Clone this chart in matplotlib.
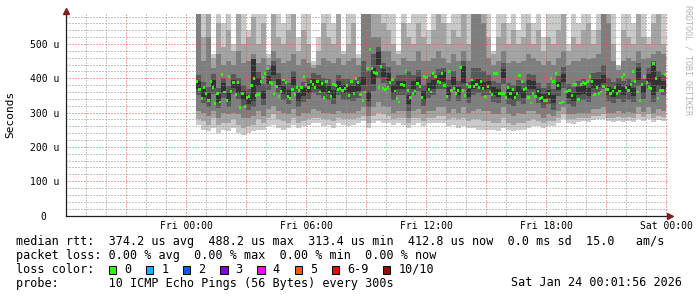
import numpy as np
import matplotlib
matplotlib.use("Agg")
import matplotlib.pyplot as plt
from matplotlib.ticker import MultipleLocator, FuncFormatter
from matplotlib.patches import Rectangle

W, H, DPI = 697, 297, 100
MONO = "DejaVu Sans Mono"

# ---------------- data ----------------
# time in hours after Thu 18:00
x_tick_hours = [6, 12, 18, 24, 30]
x_tick_labels = ["Fri 00:00", "Fri 06:00", "Fri 12:00", "Fri 18:00", "Sat 00:00"]
y_ticks = [0, 100, 200, 300, 400, 500]
y_tick_labels = ["0  ", "100 u", "200 u", "300 u", "400 u", "500 u"]

data_start = 6.5    # Fri 00:30
data_end = 30.0     # Sat 00:00

# median rtt (microseconds)
median_us = [
    392, 368, 342, 374, 356, 334, 392, 374, 327, 357, 331, 412, 360, 334, 404, 362, 387, 353, 387, 314,
    356, 319, 343, 348, 378, 400, 351, 354, 390, 403, 414, 429, 387, 385, 357, 375, 348, 362, 395, 387,
    348, 341, 367, 354, 373, 365, 373, 404, 383, 373, 390, 383,
    373, 390, 360, 385, 344, 390, 360, 348, 383, 380, 367, 370, 365, 371, 380, 351, 392, 357, 400, 387,
    353, 336, 360, 429, 484, 429, 416, 414, 373, 434, 370, 367, 373, 387, 397, 363, 341, 331, 383, 380,
    421, 365, 344, 357, 363, 385, 375, 344, 404, 402, 367, 360, 414,
    406, 390, 387, 414, 380, 348, 419, 365, 370, 357, 365, 432, 365, 351, 383, 377, 395, 377, 383, 373,
    392, 370, 348, 377, 360, 354, 414, 414, 356, 356, 357, 344, 373, 357, 367, 344, 356, 409, 392, 367,
    370, 344, 328, 357, 348, 363, 341, 344, 336, 336,
    357, 400, 390, 414, 380, 328, 331, 360, 362, 365, 351, 383, 383, 338, 383, 387, 385, 390, 406, 390,
    354, 373, 357, 360, 375, 367, 367, 357, 363, 373, 356, 363, 402, 412, 373, 365, 383, 419, 390, 360,
    336, 383, 404, 387, 373, 370, 443, 400, 341, 365, 365, 412,
]

# smoke bands (15-minute columns), ping rank 1..5 from the outside in
smoke_hi1 = [
    600, 600, 600, 470, 600, 560, 600, 500, 600, 600, 540, 600, 600, 600, 470, 600, 600, 560, 600, 600, 520, 600, 600, 450,
    520, 600, 600, 560, 600, 480, 600, 600, 470, 600, 600, 600, 600, 600, 600, 600, 480, 600, 560, 600, 600, 600, 540, 600,
    600, 600, 560, 600, 600, 600, 600, 600, 600, 600, 600, 480, 600, 600, 560, 600, 540, 600, 600, 560, 600, 520, 600, 600,
    600, 600, 500, 600, 560, 600, 600, 540, 600, 600, 600, 600, 440, 600, 600, 560, 600, 600, 520, 600, 600, 600,
]
smoke_hi2 = [
    600, 520, 600, 460, 560, 490, 540, 480, 600, 500, 520, 580, 500, 560, 460, 600, 520, 500, 540, 600, 480, 540, 500, 440,
    480, 560, 520, 500, 600, 470, 500, 560, 460, 600, 600, 600, 600, 560, 540, 500, 470, 560, 520, 500, 560, 520, 500, 540,
    600, 560, 500, 540, 520, 600, 500, 600, 600, 600, 520, 470, 520, 560, 500, 540, 500, 520, 560, 500, 540, 480, 520, 500,
    540, 600, 480, 520, 500, 540, 560, 500, 540, 600, 600, 500, 435, 540, 520, 500, 600, 520, 500, 560, 600, 500,
]
smoke_hi3 = [
    600, 450, 520, 430, 470, 440, 450, 440, 480, 445, 450, 470, 445, 460, 440, 480, 460, 445, 450, 470, 440, 455, 445, 430,
    440, 460, 450, 445, 460, 440, 450, 460, 440, 600, 600, 520, 520, 480, 480, 450, 440, 460, 450, 450, 480, 450, 450, 460,
    480, 460, 445, 470, 450, 480, 450, 600, 600, 560, 460, 440, 450, 480, 445, 450, 445, 450, 470, 460, 450, 440, 450, 440,
    460, 480, 440, 450, 450, 460, 455, 460, 470, 600, 560, 450, 425, 450, 460, 450, 480, 455, 460, 470, 480, 470,
]
smoke_hi4 = [
    410, 388, 375, 413, 372, 402, 377, 413, 400, 380, 368, 455, 419, 382, 426, 451, 416, 396, 385, 421, 375, 390, 400, 416,
    411, 402, 397, 384, 411, 398, 398, 395, 404, 450, 420, 470, 490, 445, 433, 398, 410, 410, 421, 411, 423, 380, 404, 412,
    428, 430, 394, 422, 393, 450, 388, 430, 430, 420, 411, 392, 387, 444, 386, 380, 395, 385, 412, 410, 387, 372, 385, 369,
    408, 432, 384, 375, 393, 397, 390, 415, 417, 440, 400, 388, 401, 392, 398, 390, 445, 399, 431, 450, 421, 410,
]
smoke_hi5 = [
    392, 370, 357, 395, 355, 385, 360, 395, 382, 362, 350, 455, 401, 364, 408, 440, 398, 378, 367, 403, 357, 372, 382, 398,
    393, 384, 379, 366, 393, 380, 380, 377, 386, 405, 360, 430, 480, 427, 415, 380, 392, 392, 350, 393, 405, 362, 386, 394,
    410, 420, 376, 404, 375, 435, 370, 392, 398, 390, 393, 374, 369, 426, 368, 362, 377, 367, 394, 392, 369, 354, 367, 351,
    390, 414, 366, 357, 375, 379, 372, 397, 399, 410, 375, 370, 383, 374, 380, 372, 430, 381, 413, 445, 403, 392,
]
smoke_lo5 = [
    368, 346, 333, 371, 330, 360, 335, 371, 358, 338, 326, 334, 377, 340, 384, 409, 374, 354, 343, 379, 333, 348, 358, 374,
    369, 360, 355, 342, 369, 356, 356, 353, 362, 381, 333, 382, 440, 403, 391, 356, 368, 368, 324, 369, 381, 338, 362, 370,
    386, 388, 352, 380, 351, 386, 346, 368, 374, 366, 369, 350, 345, 402, 344, 338, 353, 343, 370, 368, 345, 330, 343, 327,
    366, 390, 342, 333, 351, 355, 348, 373, 375, 386, 351, 346, 359, 350, 356, 348, 395, 357, 389, 350, 379, 368,
]
smoke_lo4 = [
    350, 328, 315, 353, 312, 342, 317, 353, 340, 320, 308, 316, 359, 322, 366, 391, 356, 336, 325, 361, 315, 330, 340, 356,
    351, 342, 337, 324, 351, 338, 338, 335, 344, 363, 315, 364, 400, 385, 373, 338, 350, 350, 306, 351, 363, 320, 344, 352,
    368, 370, 334, 362, 333, 368, 328, 350, 356, 348, 351, 332, 327, 384, 326, 320, 335, 325, 352, 350, 327, 312, 325, 309,
    348, 372, 324, 315, 333, 337, 330, 355, 357, 368, 333, 328, 341, 332, 338, 330, 377, 339, 371, 332, 361, 350,
]
smoke_lo3 = [
    305, 300, 290, 305, 285, 300, 295, 300, 295, 285, 285, 290, 305, 290, 310, 320, 305, 300, 295, 310, 290, 300, 300, 310,
    305, 300, 300, 295, 305, 300, 300, 300, 305, 315, 290, 315, 330, 320, 315, 300, 305, 305, 285, 305, 310, 295, 305, 305,
    315, 315, 300, 310, 300, 315, 300, 305, 310, 305, 305, 295, 295, 315, 295, 290, 300, 295, 305, 305, 295, 285, 295, 290,
    305, 315, 295, 295, 300, 300, 300, 310, 310, 315, 300, 300, 305, 300, 303, 300, 315, 303, 315, 300, 310, 305,
]
smoke_lo2 = [
    280, 275, 265, 285, 265, 270, 270, 280, 265, 255, 260, 265, 280, 270, 285, 295, 280, 275, 270, 285, 270, 275, 280, 285,
    285, 280, 280, 275, 285, 280, 280, 280, 285, 290, 270, 290, 300, 295, 290, 280, 285, 285, 270, 285, 285, 275, 285, 285,
    290, 290, 280, 285, 280, 285, 275, 280, 280, 275, 275, 270, 270, 285, 270, 265, 270, 270, 275, 280, 275, 270, 275, 275,
    285, 295, 280, 280, 285, 285, 285, 290, 290, 295, 285, 285, 288, 285, 287, 285, 295, 288, 295, 285, 290, 288,
]
smoke_lo1 = [
    265, 250, 245, 255, 240, 250, 245, 255, 240, 235, 240, 245, 250, 250, 260, 265, 255, 250, 255, 265, 255, 260, 265, 270,
    270, 260, 265, 255, 270, 265, 260, 265, 270, 275, 255, 270, 275, 270, 270, 265, 270, 265, 255, 265, 270, 260, 270, 270,
    270, 270, 260, 265, 255, 260, 255, 255, 250, 250, 250, 250, 245, 255, 250, 245, 250, 250, 255, 260, 260, 255, 260, 262,
    270, 280, 270, 268, 272, 275, 272, 278, 280, 280, 275, 272, 275, 272, 275, 272, 282, 276, 280, 272, 278, 276,
]

legend_line1 = "median rtt:  374.2 us avg  488.2 us max  313.4 us min  412.8 us now  0.0 ms sd  15.0   am/s"
legend_line2 = "packet loss: 0.00 % avg  0.00 % max  0.00 % min  0.00 % now"
legend_line3 = "loss color:"
legend_line4 = "probe:       10 ICMP Echo Pings (56 Bytes) every 300s"
legend_date = "Sat Jan 24 00:01:56 2026"
loss_labels = ["0", "1", "2", "3", "4", "5", "6-9", "10/10"]
loss_colors = ["#26ff00", "#00b8ff", "#0059ff", "#7e00ff", "#ff00ff", "#ff5500", "#ff0000", "#a10000"]

smoke_colors = ["#cacaca", "#a4a4a4", "#7e7e7e", "#585858", "#323232"]
median_color = "#26ff00"

# ---------------- figure ----------------
fig = plt.figure(figsize=(W / DPI, H / DPI), dpi=DPI, facecolor="white")
ax_left, ax_right, ax_bottom, ax_top = 66, 668, 215.5, 14
ax = fig.add_axes([ax_left / W, (H - ax_bottom) / H, (ax_right - ax_left) / W, (ax_bottom - ax_top) / H])
ax.set_facecolor("white")
ax.set_xlim(0, 30.1)
ax.set_ylim(0, 587.5)

# smoke
n_cols = len(smoke_hi1)
col_w = (data_end - data_start) / n_cols
edges = data_start + col_w * np.arange(n_cols + 1)
layers = [(smoke_lo1, smoke_hi1), (smoke_lo2, smoke_hi2), (smoke_lo3, smoke_hi3),
          (smoke_lo4, smoke_hi4), (smoke_lo5, smoke_hi5)]
for (lo, hi), col in zip(layers, smoke_colors):
    lo_e = np.append(lo, lo[-1])
    hi_e = np.append(hi, hi[-1])
    ax.fill_between(edges, lo_e, hi_e, step="post", color=col, linewidth=0, zorder=1)

# median marks
med = np.array(median_us, dtype=float)
dt = (data_end - data_start) / len(med)
t = data_start + dt * np.arange(len(med))
mark_h = 8.5
ax.bar(t, mark_h, bottom=med - mark_h / 2, width=dt, align="edge", color=median_color,
       linewidth=0, zorder=2)

# grid (dotted, faint, drawn over the smoke like rrdtool)
ax.xaxis.set_major_locator(MultipleLocator(3))
ax.xaxis.set_minor_locator(MultipleLocator(1))
ax.yaxis.set_major_locator(MultipleLocator(100))
ax.yaxis.set_minor_locator(MultipleLocator(20))
ax.set_axisbelow(False)
ax.grid(True, which="minor", color=(0.56, 0.56, 0.56, 0.45), linestyle=(0, (1, 2)), linewidth=0.72)
ax.grid(True, which="major", color=(0.87, 0.31, 0.31, 0.5), linestyle=(0, (1, 2)), linewidth=0.72)

xlab = dict(zip(x_tick_hours, x_tick_labels))
ylab = dict(zip(y_ticks, y_tick_labels))
ax.xaxis.set_major_formatter(FuncFormatter(lambda v, p: xlab.get(int(round(v)), "")))
ax.yaxis.set_major_formatter(FuncFormatter(lambda v, p: ylab.get(int(round(v)), "")))
ax.tick_params(which="both", length=0)
ax.tick_params(axis="y", pad=5)
ax.tick_params(axis="x", pad=4)
for lbl in ax.get_xticklabels() + ax.get_yticklabels():
    lbl.set_fontfamily(MONO)
    lbl.set_fontsize(7)

for s in ["top", "right"]:
    ax.spines[s].set_visible(False)
for s in ["left", "bottom"]:
    ax.spines[s].set_color((0.12, 0.12, 0.12))
    ax.spines[s].set_linewidth(0.9)
    ax.spines[s].set_zorder(4)

arrow_col = (0.5, 0.12, 0.12)
ax.plot([0], [1.015], marker="^", ms=4.2, color=arrow_col, transform=ax.transAxes, clip_on=False, zorder=5)
ax.plot([1.004], [0], marker=">", ms=4.2, color=arrow_col, transform=ax.transAxes, clip_on=False, zorder=5)

# y label and side text
fig.text(10.5 / W, 1 - 114 / H, "Seconds", rotation=90, ha="center", va="center",
         fontsize=8, family=MONO)
fig.text(688 / W, 1 - 5 / H, "RRDTOOL / TOBI OETIKER", rotation=270, ha="center", va="top",
         fontsize=6, family=MONO, color="#b4b4b4")

# legend
fs = 8.5
def fy(y):
    return 1 - y / H
fig.text(16 / W, fy(242), legend_line1, ha="left", va="center", fontsize=fs, family=MONO)
fig.text(16 / W, fy(255.5), legend_line2, ha="left", va="center", fontsize=fs, family=MONO)
fig.text(16 / W, fy(269.5), legend_line3, ha="left", va="center", fontsize=fs, family=MONO)
fig.text(16 / W, fy(283), legend_line4, ha="left", va="center", fontsize=fs, family=MONO)
fig.text(682 / W, fy(283), legend_date, ha="right", va="center", fontsize=fs, family=MONO)

box_x0, box_step = 108.5, 37.2
box_xs = [box_x0 + box_step * i for i in range(7)] + [383]
for bx, lab, col in zip(box_xs, loss_labels, loss_colors):
    fig.patches.append(Rectangle((bx / W, fy(273.5)), 7.5 / W, 7.5 / H, transform=fig.transFigure,
                                 facecolor=col, edgecolor="black", linewidth=0.7))
    fig.text((bx + 15.5) / W, fy(269.5), lab, ha="left", va="center", fontsize=fs, family=MONO)

fig.savefig("out.png", dpi=DPI, facecolor="white")
